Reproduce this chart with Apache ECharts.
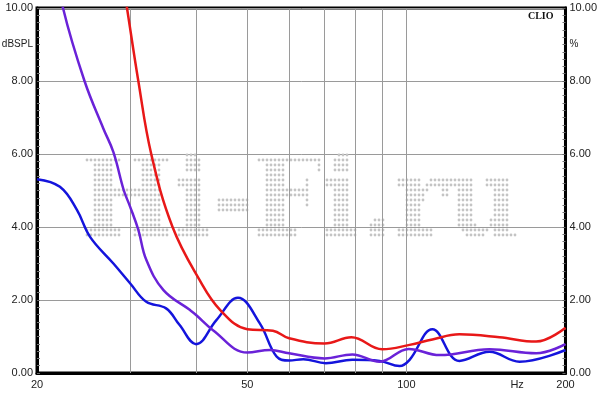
<!DOCTYPE html>
<html><head><meta charset="utf-8">
<script src="https://cdn.jsdelivr.net/npm/echarts@6/dist/echarts.min.js"></script>
<style>html,body{margin:0;padding:0;background:#fff}#c{width:600px;height:394px}</style>
</head><body><div id="c"></div>
<script>
// ---- data ----
const redFreq = [28.5, 29.6, 31.1, 32.9, 36.1, 40.6, 44.4, 50, 55.9, 60, 70, 78.7, 90, 101.4, 112, 126, 150, 176, 200];
const redVal  = [11.5, 10.0, 8.0, 6.0, 4.0, 2.55, 1.73, 1.2, 1.16, 0.95, 0.81, 0.98, 0.65, 0.77, 0.92, 1.06, 0.98, 0.86, 1.24];

const purpleFreq = [21.5, 22.4, 24.6, 26.7, 27.9, 29.2, 30, 31.1, 32.2, 34.7, 38.9, 40, 43, 50, 55.2, 60, 70, 79, 89, 101, 115.6, 143.6, 176, 200];
const purpleVal  = [11.5, 10.0, 8.0, 6.7, 6.05, 5.0, 4.56, 3.92, 3.1, 2.27, 1.73, 1.59, 1.18, 0.56, 0.63, 0.54, 0.40, 0.51, 0.31, 0.66, 0.49, 0.65, 0.54, 0.79];

const blueFreq = [20, 22.1, 23.8, 25.2, 27.9, 30, 32.2, 35.1, 37.2, 40, 43.7, 48, 52.8, 56.8, 60, 63.8, 70.4, 79, 89, 97.1, 101.4, 112, 126, 143.6, 163.7, 200];
const blueVal  = [5.31, 5.1, 4.47, 3.73, 3.0, 2.46, 1.95, 1.77, 1.32, 0.79, 1.45, 2.06, 1.36, 0.45, 0.34, 0.38, 0.27, 0.36, 0.33, 0.19, 0.36, 1.2, 0.33, 0.58, 0.31, 0.63];

const xGridFreqs = [30, 40, 50, 60, 70, 80, 90, 100];
const xTickLabels = [20, 50, 100, 200];
const xUnit = 'Hz', xUnitFreq = 162;
const yMin = 0, yMax = 10, yStep = 2;
const leftName = 'dBSPL', rightName = '%', nameAt = 9;
const brand = 'CLIO';
const watermark = 'Hi-Fi.ru';

const pairs = (f, v) => f.map((x, i) => [x, v[i]]);
const fnt = '"Liberation Sans", Arial, sans-serif';

const chart = echarts.init(document.getElementById('c'), null, {renderer: 'canvas'});
const yAxisBase = {
  type: 'value', min: yMin, max: yMax, interval: yStep,
  axisLine: {show: true, lineStyle: {color: '#000', width: 3}},
  axisTick: {show: true, inside: true, length: 3, lineStyle: {color: '#666'}},
  minorTick: {show: true, splitNumber: 10, length: 3, lineStyle: {color: '#777'}},
  axisLabel: {formatter: v => v.toFixed(2), color: '#222', fontSize: 11, fontFamily: fnt, margin: 4}
};
const lineSeries = (name, data, color) => ({
  type: 'line', name, data, smooth: 0.4, symbol: 'none', clip: true, z: 5,
  lineStyle: {color, width: 2.5}, animation: false
});
chart.setOption({
  animation: false,
  grid: {left: 37, right: 34, top: 8, bottom: 21, show: true, borderColor: '#000', borderWidth: 3, backgroundColor: 'transparent'},
  xAxis: {type: 'log', logBase: 10, min: 20, max: 200,
    axisLine: {show: true, onZero: false, lineStyle: {color: '#000', width: 3}},
    axisTick: {show: false}, axisLabel: {show: false}, splitLine: {show: false}},
  yAxis: [
    Object.assign({}, yAxisBase, {position: 'left', splitLine: {show: true, lineStyle: {color: '#9a9a9a', width: 1}}}),
    Object.assign({}, yAxisBase, {position: 'right', splitLine: {show: false}})
  ],
  series: [
    {type: 'line', data: [], z: 1, silent: true,
      markLine: {silent: true, symbol: ['none', 'none'], animation: false, label: {show: false},
        lineStyle: {color: '#9a9a9a', width: 1, type: 'solid'},
        data: xGridFreqs.map(f => ({xAxis: f}))}},
    lineSeries('blue', pairs(blueFreq, blueVal), '#1414dc'),
    lineSeries('purple', pairs(purpleFreq, purpleVal), '#6a22d8'),
    lineSeries('red', pairs(redFreq, redVal), '#e81818')
  ]
});

// ---- texts & watermark ----
const els = [];
const bottomY = chart.convertToPixel({yAxisIndex: 0}, yMin);
xTickLabels.forEach(f => {
  els.push({type: 'text', x: chart.convertToPixel({xAxisIndex: 0}, f), y: bottomY + 12, z: 10,
    style: {text: String(f), fill: '#222', font: '11px ' + fnt, align: 'center', verticalAlign: 'middle'}});
});
els.push({type: 'text', x: chart.convertToPixel({xAxisIndex: 0}, xUnitFreq), y: bottomY + 12, z: 10,
  style: {text: xUnit, fill: '#222', font: '11px ' + fnt, align: 'center', verticalAlign: 'middle'}});
const nameY = chart.convertToPixel({yAxisIndex: 0}, nameAt);
const leftX = chart.convertToPixel({xAxisIndex: 0}, 20);
const rightX = chart.convertToPixel({xAxisIndex: 0}, 200);
els.push({type: 'text', x: leftX - 4, y: nameY, z: 10,
  style: {text: leftName, fill: '#222', font: '10px ' + fnt, align: 'right', verticalAlign: 'middle'}});
els.push({type: 'text', x: rightX + 4, y: nameY, z: 10,
  style: {text: rightName, fill: '#222', font: '10px ' + fnt, align: 'left', verticalAlign: 'middle'}});
els.push({type: 'text', x: rightX - 12, y: 16, z: 10,
  style: {text: brand, fill: '#111', font: 'bold 10px "Liberation Serif", "DejaVu Serif", serif', align: 'right', verticalAlign: 'middle'}});

// dotted watermark
(function () {
  const box = {x0: 85, x1: 517, y0: 153, y1: 239};
  const cv = document.createElement('canvas'); cv.width = 600; cv.height = 394;
  const ctx = cv.getContext('2d');
  ctx.font = 'bold 120px "DejaVu Serif"';
  const m = ctx.measureText(watermark);
  const w = m.actualBoundingBoxLeft + m.actualBoundingBoxRight;
  const h = m.actualBoundingBoxAscent + m.actualBoundingBoxDescent;
  ctx.translate(box.x0, box.y0);
  ctx.scale((box.x1 - box.x0) / w, (box.y1 - box.y0) / h);
  ctx.fillStyle = '#000';
  ctx.fillText(watermark, m.actualBoundingBoxLeft, m.actualBoundingBoxAscent);
  const img = ctx.getImageData(0, 0, 600, 394).data;
  const dots = [];
  for (let y = box.y0 + 2; y <= box.y1; y += 5) {
    for (let x = box.x0 + 2; x <= box.x1; x += 4) {
      const a = img[(Math.round(y) * 600 + Math.round(x)) * 4 + 3];
      if (a > 100) dots.push({type: 'circle', shape: {cx: x, cy: y, r: 1.4}, style: {fill: '#c4c4c4'}, z: 1, silent: true});
    }
  }
  els.push({type: 'group', z: 1, children: dots});
})();
chart.setOption({graphic: {elements: els}});
</script></body></html>
